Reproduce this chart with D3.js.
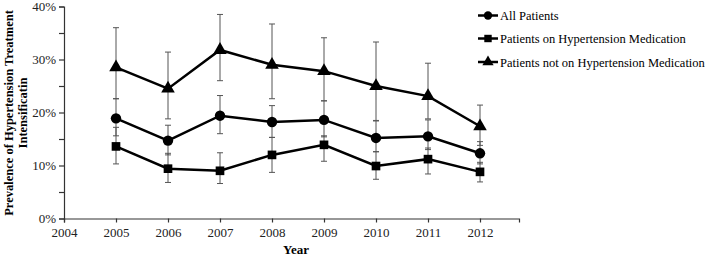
<!DOCTYPE html>
<html><head><meta charset="utf-8">
<script src="https://cdn.jsdelivr.net/npm/d3@7"></script>
<style>body{margin:0;background:#fff}svg{display:block}</style>
</head><body>
<script>
const years = [2005, 2006, 2007, 2008, 2009, 2010, 2011, 2012];
const seriesNames = ["All Patients", "Patients on Hypertension Medication", "Patients not on Hypertension Medication"];
const allPatients = [18.9, 14.7, 19.4, 18.2, 18.6, 15.2, 15.5, 12.3];
const allLow      = [15.6, 12.0, 16.0, 15.3, 15.4, 12.6, 13.0, 10.3];
const allHigh     = [22.6, 17.6, 23.2, 21.3, 22.2, 18.4, 18.6, 14.5];
const onMed       = [13.6, 9.4, 9.0, 12.0, 13.9, 9.9, 11.2, 8.8];
const onMedLow    = [10.3, 6.8, 6.6, 8.7, 10.8, 7.4, 8.4, 6.9];
const onMedHigh   = [17.2, 12.3, 12.4, 15.3, 15.6, 12.6, 13.3, 10.6];
const notOnMed    = [28.5, 24.5, 31.8, 29.0, 27.8, 25.0, 23.1, 17.4];
const notOnLow    = [22.6, 18.8, 26.0, 22.6, 22.2, 18.5, 18.8, 13.8];
const notOnHigh   = [36.0, 31.4, 38.5, 36.7, 34.1, 33.3, 29.3, 21.4];
const xTicks = [2004, 2005, 2006, 2007, 2008, 2009, 2010, 2011, 2012];
const yTicks = [0, 10, 20, 30, 40];

const W = 709, H = 259;
const svg = d3.select("body").append("svg").attr("width", W).attr("height", H);
const font = "'Liberation Serif','Times New Roman',serif";

const x = d3.scaleLinear().domain([2004, 2012.75]).range([64, 519]);
const y = d3.scaleLinear().domain([0, 40]).range([218.5, 6.5]);

// axes
const xAxis = d3.axisBottom(x).tickValues(xTicks).tickFormat(d3.format("d")).tickSizeOuter(0).tickSize(4).tickPadding(5);
const gx = svg.append("g").attr("transform", `translate(0,${y(0)})`).call(xAxis);
gx.selectAll("text").attr("font-family", font).attr("font-size", 13).attr("fill", "#222");
gx.selectAll("line,path").attr("stroke", "#333").attr("stroke-width", 1.2);

const yAxis = d3.axisLeft(y).tickValues(d3.range(0, 41, 5)).tickFormat(d => yTicks.includes(d) ? d + "%" : "").tickSizeOuter(0).tickSize(5).tickPadding(3);
const gy = svg.append("g").attr("transform", `translate(${x(2004)},0)`).call(yAxis);
gy.selectAll("text").attr("font-family", font).attr("font-size", 13).attr("fill", "#222");
gy.selectAll("line,path").attr("stroke", "#333").attr("stroke-width", 1.2);

// titles
svg.append("text").attr("x", 296).attr("y", 254).attr("text-anchor", "middle")
  .attr("font-family", font).attr("font-weight", "bold").attr("font-size", 13).text("Year");
const yt = svg.append("text").attr("transform", "translate(13,113) rotate(-90)").attr("text-anchor", "middle")
  .attr("font-family", font).attr("font-weight", "bold").attr("font-size", 12.5);
yt.append("tspan").attr("x", 0).attr("dy", 0).text("Prevalence of Hypertension Treatment");
yt.append("tspan").attr("x", 0).attr("dy", 14).text("Intensificatin");

const series = [
  {name: seriesNames[0], v: allPatients, lo: allLow, hi: allHigh, shape: d3.symbolCircle, size: 85},
  {name: seriesNames[1], v: onMed, lo: onMedLow, hi: onMedHigh, shape: d3.symbolSquare, size: 75},
  {name: seriesNames[2], v: notOnMed, lo: notOnLow, hi: notOnHigh, shape: d3.symbolTriangle, size: 80}
];

// error bars
series.forEach(s => {
  const g = svg.append("g").attr("stroke", "#555").attr("stroke-width", 1);
  years.forEach((yr, i) => {
    g.append("line").attr("x1", x(yr)).attr("x2", x(yr)).attr("y1", y(s.lo[i])).attr("y2", y(s.hi[i]));
    [s.lo[i], s.hi[i]].forEach(v => g.append("line").attr("x1", x(yr) - 3).attr("x2", x(yr) + 3).attr("y1", y(v)).attr("y2", y(v)));
  });
});

// lines and markers
const line = d3.line().x((d, i) => x(years[i])).y(d => y(d));
series.forEach(s => {
  svg.append("path").attr("d", line(s.v)).attr("fill", "none").attr("stroke", "#000").attr("stroke-width", 2.5);
  svg.selectAll(null).data(s.v).join("path")
    .attr("transform", (d, i) => `translate(${x(years[i])},${y(d)})`)
    .attr("d", d3.symbol().type(s.shape).size(s.size)).attr("fill", "#000");
});

// legend
const legY = [15.5, 38.5, 62];
series.forEach((s, i) => {
  const g = svg.append("g").attr("transform", `translate(478,${legY[i]})`);
  g.append("line").attr("x1", 0).attr("x2", 20).attr("stroke", "#000").attr("stroke-width", 2.5);
  g.append("path").attr("transform", "translate(10,0)").attr("d", d3.symbol().type(s.shape).size(55)).attr("fill", "#000");
  const t = g.append("text").attr("x", 22).attr("y", 4.5).attr("font-family", font).attr("font-size", 12.5).text(s.name);
  const w = t.node().getComputedTextLength();
  const maxW = 707 - 478 - 22;
  if (w > maxW) t.attr("textLength", maxW).attr("lengthAdjust", "spacingAndGlyphs");
});
</script>
</body></html>
